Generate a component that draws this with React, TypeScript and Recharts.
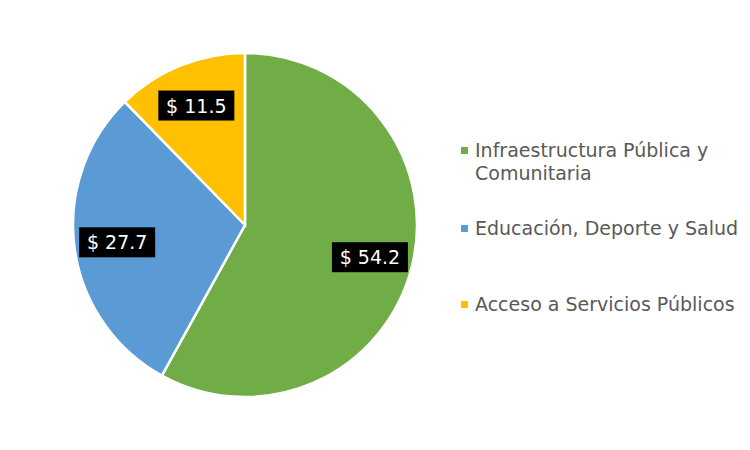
import { PieChart, Pie, Cell, Legend } from "recharts";

const categories = [
  "Infraestructura Pública y Comunitaria",
  "Educación, Deporte y Salud",
  "Acceso a Servicios Públicos",
];
const values = [54.2, 27.7, 11.5];
const colors = ["#70AD47", "#5B9BD5", "#FFC000"];

const data = categories.map((name, i) => ({ name, value: values[i] }));

const RADIAN = Math.PI / 180;
const FONT = "'DejaVu Sans', Verdana, sans-serif";

// eslint-disable-next-line @typescript-eslint/no-explicit-any
function renderLabel({ cx, cy, midAngle, value }: any) {
  const r = 129;
  const x = cx + r * Math.cos(-midAngle * RADIAN);
  const y = cy + r * Math.sin(-midAngle * RADIAN);
  const w = 76;
  const h = 30;
  return (
    <g>
      <rect x={x - w / 2} y={y - h / 2} width={w} height={h} fill="#000" />
      <text
        x={x}
        y={y}
        fill="#fff"
        textAnchor="middle"
        dominantBaseline="central"
        style={{ fontFamily: FONT, fontSize: 19 }}
      >
        {`$ ${value.toFixed(1)}`}
      </text>
    </g>
  );
}

// spacing between legend entries, as in the original layout
const legendGaps = [0, 32, 53];

function CustomLegend() {
  // keep the original series order (Recharts sorts its payload)
  return (
    <div style={{ fontFamily: FONT, fontSize: 19, color: "#595959", lineHeight: "23px" }}>
      {categories.map((name, i) => (
        <div key={name} style={{ display: "flex", marginTop: legendGaps[i] }}>
          <div
            style={{
              width: 7,
              height: 7,
              backgroundColor: colors[i],
              marginTop: 8,
              marginRight: 7,
              flexShrink: 0,
            }}
          />
          <span style={{ width: 268 }}>{name}</span>
        </div>
      ))}
    </div>
  );
}

export default function App() {
  return (
    <div style={{ position: "absolute", left: 0, top: 0, background: "#fff" }}>
      <PieChart
        width={750}
        height={450}
        margin={{ top: 0, right: 0, bottom: 0, left: 0 }}
      >
        <Pie
          data={data}
          dataKey="value"
          nameKey="name"
          cx={245}
          cy={225}
          outerRadius={172}
          startAngle={90}
          endAngle={-270}
          stroke="#fff"
          strokeWidth={2.5}
          label={renderLabel}
          labelLine={false}
          isAnimationActive={false}
        >
          {data.map((d, i) => (
            <Cell key={d.name} fill={colors[i]} />
          ))}
        </Pie>
        <Legend
          layout="vertical"
          align="right"
          verticalAlign="top"
          content={<CustomLegend />}
          wrapperStyle={{ left: 461, top: 139, width: 289 }}
        />
      </PieChart>
    </div>
  );
}
